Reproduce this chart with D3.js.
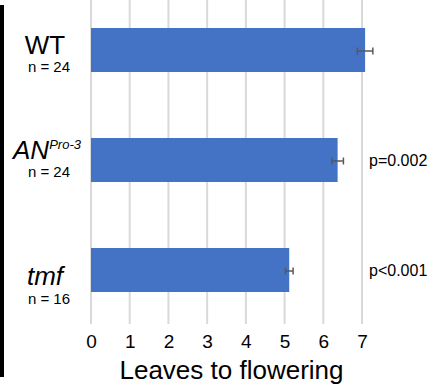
<!DOCTYPE html>
<html><head><meta charset="utf-8">
<script src="https://cdn.jsdelivr.net/npm/d3@7"></script>
<style>body{margin:0;background:#fff;}svg{display:block;font-family:Arial,"Liberation Sans",sans-serif;}</style>
</head><body>
<script>
const categories = ["WT", "AN", "tmf"];
const superscripts = ["", "Pro-3", ""];
const italics = [false, true, true];
const nLabels = ["n = 24", "n = 24", "n = 16"];
const values = [7.08, 6.37, 5.12];
const errors = [0.2, 0.15, 0.1];
const pLabels = ["", "p=0.002", "p<0.001"];
const ticks = [0, 1, 2, 3, 4, 5, 6, 7];
const axisTitle = "Leaves to flowering";

const W = 430, H = 386;
const svg = d3.select("body").append("svg").attr("width", W).attr("height", H);

const x = d3.scaleLinear().domain([0, 7]).range([91, 362]);
const y = d3.scaleBand().domain(categories).range([-5, 325]).paddingInner(0.6).paddingOuter(0.3);

// label vertical offsets relative to bar top (layout)
const nameDy = [26, 21, 37];
const nDy = [44, 39, 56];

// left black bar
svg.append("rect").attr("x", 0).attr("y", 5).attr("width", 4).attr("height", 372).attr("fill", "#000");

// gridlines
svg.append("g").selectAll("line").data(ticks).join("line")
  .attr("x1", d => x(d)).attr("x2", d => x(d))
  .attr("y1", 0).attr("y2", 324)
  .attr("stroke", "#d9d9d9").attr("stroke-width", 2);

// bars
svg.append("g").selectAll("rect").data(categories).join("rect")
  .attr("x", x(0)).attr("y", d => y(d))
  .attr("width", (d, i) => x(values[i]) - x(0))
  .attr("height", y.bandwidth())
  .attr("fill", "#4472c4");

// error bars
const eg = svg.append("g").attr("stroke", "#595959").attr("stroke-width", 1.5);
categories.forEach((c, i) => {
  const cy = y(c) + y.bandwidth() / 2 + 1;
  const x0 = x(values[i] - errors[i]), x1 = x(values[i] + errors[i]);
  eg.append("line").attr("x1", x0).attr("x2", x1).attr("y1", cy).attr("y2", cy);
  eg.append("line").attr("x1", x0).attr("x2", x0).attr("y1", cy - 3.5).attr("y2", cy + 3.5);
  eg.append("line").attr("x1", x1).attr("x2", x1).attr("y1", cy - 3.5).attr("y2", cy + 3.5);
});

// category labels
categories.forEach((c, i) => {
  const top = y(c);
  const t = svg.append("text").attr("x", 45).attr("y", top + nameDy[i])
    .attr("text-anchor", "middle").attr("font-size", 26).attr("fill", "#000");
  const main = t.append("tspan").text(c);
  if (italics[i]) main.attr("font-style", "italic");
  if (superscripts[i]) {
    t.attr("x", 47);
    t.append("tspan").text(superscripts[i]).attr("font-size", 13).attr("font-style", "italic").attr("dy", -10);
  }
  svg.append("text").attr("x", 49).attr("y", top + nDy[i]).attr("text-anchor", "middle")
    .attr("font-size", 15).attr("fill", "#000").text(nLabels[i]);
  if (pLabels[i]) {
    svg.append("text").attr("x", 369).attr("y", top + y.bandwidth() / 2 + 6)
      .attr("font-size", 16).attr("fill", "#000").text(pLabels[i]);
  }
});

// x axis
const ax = svg.append("g").attr("transform", "translate(0,324)")
  .call(d3.axisBottom(x).tickValues(ticks).tickFormat(d3.format("d")).tickSize(0).tickPadding(11));
ax.select(".domain").remove();
ax.selectAll("text").attr("font-size", 19).attr("fill", "#000").attr("font-family", "Arial, 'Liberation Sans', sans-serif");

svg.append("text").attr("x", x(3.5) + 5).attr("y", 379).attr("text-anchor", "middle")
  .attr("font-size", 26).attr("fill", "#000").text(axisTitle);
</script>
</body></html>
